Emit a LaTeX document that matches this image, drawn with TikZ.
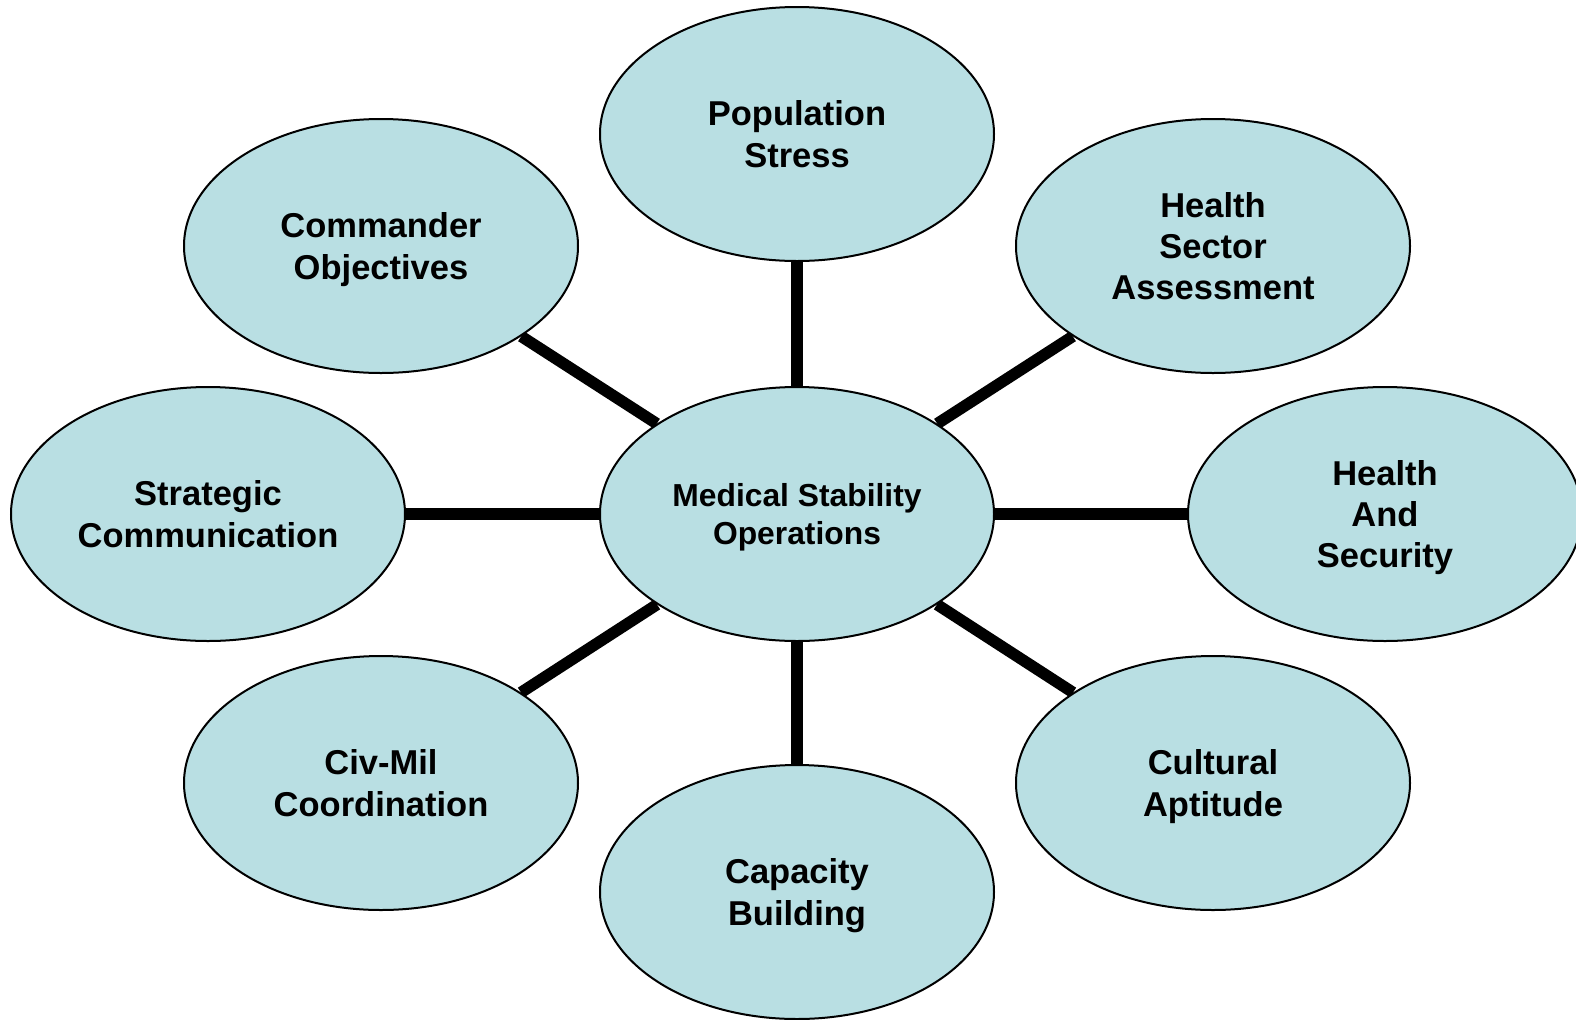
\documentclass[tikz,border=0pt]{standalone}
\usepackage{fontspec}
\setmainfont{Liberation Sans}
\usetikzlibrary{shapes.geometric,backgrounds}
\definecolor{bubble}{RGB}{185,223,227}

\begin{document}
\begin{tikzpicture}[x=0.5pt,y=-0.5pt,
    topic/.style={ellipse, draw=black, line width=1pt, fill=bubble,
        minimum width=197pt, minimum height=127pt, inner sep=0pt, align=center,
        text depth=-2pt, font=\bfseries\fontsize{17.25}{20.6}\selectfont},
    hub/.style={topic, font=\bfseries\fontsize{15.9}{19.1}\selectfont},
    link/.style={line width=5.75pt, black}]
    \useasboundingbox (0,0) rectangle (1576,1019);

    % Hub (middle)
    \node[hub] (mso) at (797,514) {Medical Stability\\Operations};

    % Outer topics
    \node[topic] (pop)   at (797,134)  {Population\\Stress};
    \node[topic] (hsa)   at (1213,246) {Health\\Sector\\Assessment};
    \node[topic] (hs)    at (1385,514) {Health\\And\\Security};
    \node[topic] (cult)  at (1213,783) {Cultural\\Aptitude};
    \node[topic] (cap)   at (797,892)  {Capacity\\Building};
    \node[topic] (civ)   at (381,783)  {Civ-Mil\\Coordination};
    \node[topic] (strat) at (208,514)  {Strategic\\Communication};
    \node[topic] (cmd)   at (381,246)  {Commander\\Objectives};

    % Spokes
    \begin{pgfonlayer}{background}
        \foreach \t in {pop,hsa,hs,cult,cap,civ,strat,cmd}
            \draw[link] (mso) -- (\t);
    \end{pgfonlayer}
\end{tikzpicture}
\end{document}
